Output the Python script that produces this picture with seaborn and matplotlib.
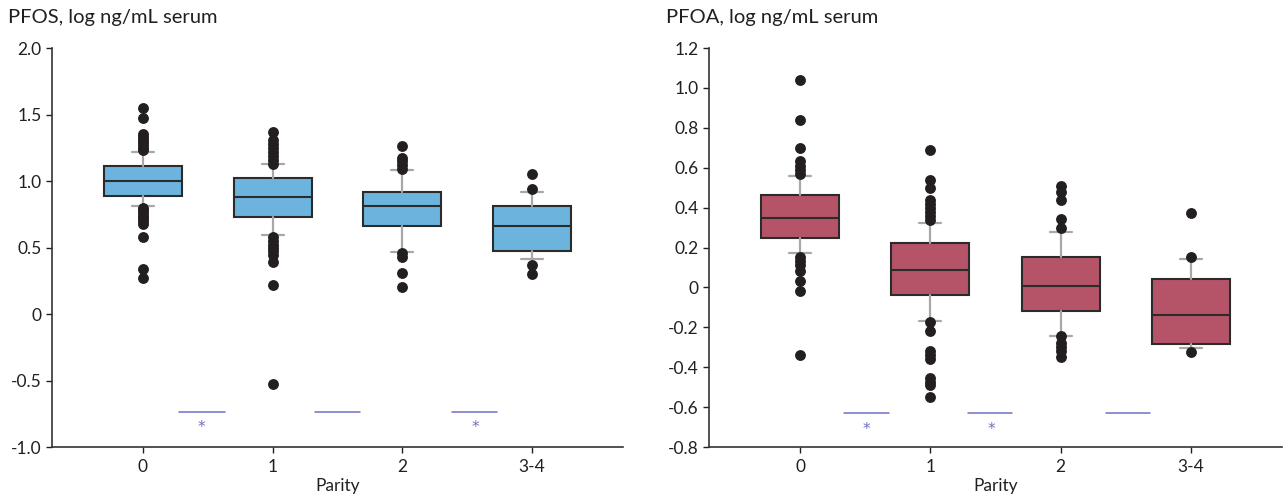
import matplotlib
matplotlib.use("Agg")
import matplotlib.pyplot as plt
import seaborn as sns

# ---------------- data ----------------
categories = ["0", "1", "2", "3-4"]

pfos_q1 = [0.887, 0.730, 0.664, 0.474]
pfos_med = [1.000, 0.880, 0.810, 0.664]
pfos_q3 = [1.110, 1.025, 0.920, 0.815]
pfos_lo = [0.815, 0.594, 0.466, 0.410]
pfos_hi = [1.220, 1.125, 1.085, 0.917]
pfos_fliers = [
    [1.55, 1.47, 1.35, 1.33, 1.31, 1.29, 1.27, 1.25, 1.23,
     0.80, 0.78, 0.76, 0.74, 0.72, 0.70, 0.68, 0.58, 0.34, 0.27],
    [1.37, 1.31, 1.28, 1.25, 1.22, 1.19, 1.16, 1.13,
     0.58, 0.55, 0.52, 0.50, 0.47, 0.44, 0.39, 0.22, -0.53],
    [1.26, 1.17, 1.15, 1.12, 1.09, 0.455, 0.43, 0.31, 0.20],
    [1.055, 0.94, 0.37, 0.30],
]

pfoa_q1 = [0.248, -0.038, -0.119, -0.286]
pfoa_med = [0.350, 0.089, 0.005, -0.139]
pfoa_q3 = [0.461, 0.223, 0.154, 0.044]
pfoa_lo = [0.171, -0.167, -0.243, -0.305]
pfoa_hi = [0.558, 0.322, 0.276, 0.141]
pfoa_fliers = [
    [1.04, 0.84, 0.70, 0.635, 0.61, 0.59, 0.57,
     0.15, 0.13, 0.11, 0.08, 0.03, -0.02, -0.34],
    [0.69, 0.54, 0.50, 0.44, 0.42, 0.40, 0.38, 0.36, 0.34,
     -0.175, -0.22, -0.32, -0.34, -0.36, -0.455, -0.475, -0.49, -0.55],
    [0.506, 0.48, 0.44, 0.344, 0.298, -0.246, -0.28, -0.30, -0.318, -0.348],
    [0.374, 0.151, -0.325],
]

# significance bars (x-start, x-end) and stars
pfos_sig_x0 = [0.28, 1.325, 2.385]
pfos_sig_x1 = [0.63, 1.67, 2.73]
pfos_sig_y = -0.737
pfos_star_x = [0.45, 2.56]
pfos_star_y = -0.855

pfoa_sig_x0 = [0.34, 1.29, 2.35]
pfoa_sig_x1 = [0.68, 1.63, 2.69]
pfoa_sig_y = -0.63
pfoa_star_x = [0.51, 1.465]
pfoa_star_y = -0.71

pfos_title = "PFOS, log ng/mL serum"
pfoa_title = "PFOA, log ng/mL serum"
x_label = "Parity"
pfos_yticks = [2.0, 1.5, 1.0, 0.5, 0, -0.5, -1.0]
pfos_yticklabels = ["2.0", "1.5", "1.0", "0.5", "0", "-0.5", "-1.0"]
pfoa_yticks = [1.2, 1.0, 0.8, 0.6, 0.4, 0.2, 0, -0.2, -0.4, -0.6, -0.8]
pfoa_yticklabels = ["1.2", "1.0", "0.8", "0.6", "0.4", "0.2", "0", "-0.2", "-0.4", "-0.6", "-0.8"]

# ---------------- style ----------------
sns.set_theme(style="ticks")
plt.rcParams["font.family"] = ["Lato", "DejaVu Sans"]
TEXT = "#231f20"
SIG = "#6f6fc6"

fig = plt.figure(figsize=(12.83, 4.95), dpi=100)
ax1 = fig.add_axes([52 / 1283, 1 - 447 / 495, (623 - 52) / 1283, 399 / 495])
ax2 = fig.add_axes([709 / 1283, 1 - 447 / 495, (1282 - 709) / 1283, 399 / 495])


def draw(ax, q1, med, q3, lo, hi, fliers, color, ylim, yticks, yticklabels,
         title, title_x, sx0, sx1, sy, starx, stary):
    stats = []
    for i in range(len(categories)):
        stats.append(dict(label=categories[i], q1=q1[i], med=med[i], q3=q3[i],
                          whislo=lo[i], whishi=hi[i], fliers=fliers[i]))
    ax.bxp(stats, positions=range(len(categories)), widths=0.6,
           capwidths=0.17, patch_artist=True, showfliers=True,
           boxprops=dict(facecolor=color, edgecolor="#2b2b2b", linewidth=1.5),
           medianprops=dict(color="#2b2b2b", linewidth=1.5),
           whiskerprops=dict(color="#a8a8a8", linewidth=1.6),
           capprops=dict(color="#a8a8a8", linewidth=1.6),
           flierprops=dict(marker="o", markerfacecolor="#231f20",
                           markeredgecolor="#231f20", markersize=6.8),
           zorder=3)
    for a, b in zip(sx0, sx1):
        ax.plot([a, b], [sy, sy], color=SIG, linewidth=1.1, zorder=2)
    for sxx in starx:
        ax.text(sxx, stary, "*", color=SIG, fontsize=11, ha="center",
                va="center", family=["DejaVu Sans"])
    ax.set_xlim(-0.7, 3.7)
    ax.set_ylim(*ylim)
    ax.set_yticks(yticks)
    ax.set_yticklabels(yticklabels)
    ax.set_xticks(range(len(categories)))
    ax.set_xticklabels(categories)
    ax.set_xlabel(x_label, fontsize=12.5, color=TEXT, labelpad=2)
    ax.tick_params(axis="both", labelsize=12.5, colors=TEXT, length=4, width=1)
    ax.tick_params(axis="x", pad=5)
    sns.despine(ax=ax)
    for s in ("left", "bottom"):
        ax.spines[s].set_color("#333333")
        ax.spines[s].set_linewidth(1.2)
    fig.text(title_x / 1283, 1 - 18 / 495, title, fontsize=14.5, color=TEXT,
             ha="left", va="center")


draw(ax1, pfos_q1, pfos_med, pfos_q3, pfos_lo, pfos_hi, pfos_fliers, "#6cb4de",
     (-1.0, 2.0), pfos_yticks, pfos_yticklabels, pfos_title, 8,
     pfos_sig_x0, pfos_sig_x1, pfos_sig_y, pfos_star_x, pfos_star_y)
draw(ax2, pfoa_q1, pfoa_med, pfoa_q3, pfoa_lo, pfoa_hi, pfoa_fliers, "#b55468",
     (-0.8, 1.2), pfoa_yticks, pfoa_yticklabels, pfoa_title, 666,
     pfoa_sig_x0, pfoa_sig_x1, pfoa_sig_y, pfoa_star_x, pfoa_star_y)

fig.savefig("out.png", dpi=100)
